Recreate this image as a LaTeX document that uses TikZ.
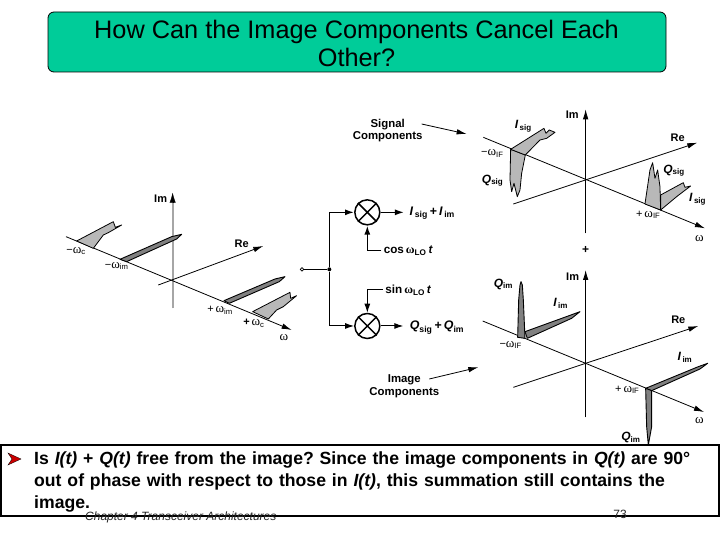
\documentclass[tikz,border=0pt]{standalone}
\usepackage{fontspec}
\setmainfont{Liberation Sans}
\newfontfamily\omfont{Liberation Serif}
\usetikzlibrary{arrows.meta}
\definecolor{titlegreen}{RGB}{0,204,153}
\newcommand{\om}{{\omfont\fontsize{13}{13}\selectfont ω}}
\newcommand{\oms}{{\omfont\fontsize{12}{12}\selectfont ω}}
\tikzset{
 axisline/.style={black,line width=.8pt},
 axisarrow/.style={axisline,-{Latex[length=10pt,width=5.5pt]}},
 wire/.style={black,line width=1.5pt,-{Latex[length=9pt,width=6pt]}},
 thinwire/.style={black,line width=1pt,-{Latex[length=9pt,width=6pt]}},
 spikelight/.style={fill=black!28,draw=black,line width=.8pt,line join=round},
 spikedark/.style={fill=black!50,draw=black,line width=.9pt,line join=round},
 lab/.style={font=\fontsize{11}{12}\selectfont,inner sep=0pt},
 blab/.style={font=\fontsize{11}{12}\selectfont\bfseries,inner sep=0pt},
 clab/.style={font=\fontsize{11.4}{12.5}\selectfont\bfseries,inner sep=0pt,align=center},
 vlab/.style={font=\fontsize{12}{13}\selectfont\bfseries,inner sep=0pt},
 wlab/.style={font=\fontsize{11.7}{13}\selectfont\bfseries,inner sep=0pt,outer sep=2.5pt},
 olab/.style={font=\fontsize{12.4}{13}\selectfont\bfseries,inner sep=0pt},
 mixer/.style={circle,draw=black,line width=1.5pt,minimum size=25pt,inner sep=0pt},
}
\begin{document}
\frenchspacing
\begin{tikzpicture}[x=1pt,y=-1pt]
\useasboundingbox (0,0) rectangle (720,540);
\fill[white] (0,0) rectangle (720,540);
% title
\node[draw=black,fill=titlegreen,rounded corners=6pt,line width=.8pt,minimum width=618pt,minimum height=60pt,inner sep=0pt] (title) at (357,42) {};
\node[align=center,inner sep=0pt,font=\fontsize{25.3}{28}\selectfont] (titletext) at (356.5,43) {How Can the Image Components Cancel Each\\Other?};

% left spectrum
\begin{scope}[shift={(40,170)},x=.3333pt,y=-.3333pt]
\coordinate (la) at (398,415); \coordinate (lb) at (398,68); \coordinate (lb2) at (398,90);
\draw[black!35,line width=1.8pt] (la) -- (lb2);
\draw[black,-{Latex[length=10pt,width=6pt]},line width=.3pt] (lb2) -- (lb);
\coordinate (lc) at (78,200); \coordinate (ld) at (755,480);
\draw[axisarrow] (lc) -- (ld);
\coordinate (le) at (355,345); \coordinate (lf) at (670,228);
\draw[axisarrow] (le) -- (lf);
\draw[spikelight] (110,213) -- (220,155) -- (226,172) -- (245,165) -- (205,188) -- (190,195) -- (160,235) -- cycle;
\draw[spikedark] (240,268) -- (395,200) -- (425,193) -- (410,207) -- (260,275) -- cycle;
\draw[spikedark] (552,392) -- (705,327) -- (735,320) -- (718,335) -- (568,400) -- cycle;
\draw[spikelight] (638,425) -- (750,367) -- (752,385) -- (770,377) -- (730,410) -- (710,420) -- (685,447) -- cycle;
\node[blab] (lim) at (362,85) {Im};
\node[blab] (lre) at (605,220) {Re};
\node[lab] (l1) at (108,243) {−\om\textsubscript{c}};
\node[lab] (l2) at (230,288) {−\om\textsubscript{im}};
\node[lab] (l3) at (540,420) {+\,\om\textsubscript{im}};
\node[lab] (l4) at (642,460) {\textbf{+}\,\om\textsubscript{c}};
\node[lab] (l5) at (732,502) {\om};
\end{scope}

% block diagram
\begin{scope}[shift={(290,180)},x=.3333pt,y=-.3333pt]
\node[mixer] (m1) at (232,97) {};
\node[mixer] (m2) at (232,438) {};
\draw[black,line width=1.5pt] (m1.north west) -- (m1.south east) (m1.north east) -- (m1.south west);
\draw[black,line width=1.5pt] (m2.north west) -- (m2.south east) (m2.north east) -- (m2.south west);
\node[circle,draw=black,line width=.7pt,minimum size=3.5pt,inner sep=0pt] (inp) at (36,268) {};
\node[circle,fill=black,minimum size=4pt,inner sep=0pt] (jn) at (118,268) {};
\draw[black,line width=1.5pt] (inp) -- (jn);
\draw[wire] (jn) |- (m1);
\draw[thinwire] (jn) |- (m2);
\node[olab] (o1) at (427,100) {\textit{I}\textsubscript{\,sig}\,+\,\textit{I}\textsubscript{\,im}};
\node[olab] (o2) at (441,443) {\textit{Q}\textsubscript{sig}\,+\,\textit{Q}\textsubscript{im}};
\coordinate (o1t) at (342,97); \coordinate (o2t) at (340,438);
\draw[wire] (m1) -- (o1t);
\draw[thinwire] (m2) -- (o2t);
\node[wlab] (c1) at (355,212) {cos\,\oms\textsubscript{LO}\,\textit{t}};
\node[wlab] (s1) at (355,330) {sin\,\oms\textsubscript{LO}\,\textit{t}};
\draw[wire] (c1) -| (m1);
\draw[thinwire] (s1) -| (m2);
\node[clab] (imc) at (343,619) {Image\\Components};
\coordinate (ims) at (418,597); \coordinate (imt) at (565,562);
\draw[axisarrow] (ims) -- (imt);
\end{scope}

% signal spectrum
\begin{scope}[shift={(340,100)},x=.3333pt,y=-.3333pt]
\coordinate (sa) at (737,400); \coordinate (sb) at (737,28);
\draw[axisarrow] (sa) -- (sb);
\coordinate (sc) at (430,112); \coordinate (sd) at (1095,385);
\draw[axisarrow] (sc) -- (sd);
\coordinate (se) at (520,312); \coordinate (sf) at (1072,128);
\draw[axisarrow] (se) -- (sf);
\draw[spikelight] (512,148) -- (510,240) -- (515,275) -- (522,250) -- (532,290) -- (540,270) -- (545,220) -- (556,165) -- cycle;
\draw[spikelight] (512,148) -- (612,85) -- (618,100) -- (628,90) -- (645,97) -- (620,115) -- (600,120) -- (556,165) -- cycle;
\draw[spikelight] (915,312) -- (930,210) -- (938,188) -- (945,235) -- (953,210) -- (960,260) -- (962,330) -- cycle;
\draw[spikelight] (962,330) -- (962,285) -- (1030,248) -- (1035,262) -- (1052,258) -- (1010,290) -- cycle;
\node[blab] (sim) at (697,45) {Im};
\node[blab] (sre) at (1013,112) {Re};
\node[clab] (sc1) at (143,92) {Signal\\Components};
\coordinate (scs) at (245,72); \coordinate (sct) at (380,102);
\draw[axisarrow] (scs) -- (sct);
\node[vlab] (s2) at (550,78) {\textit{I}\textsubscript{\,sig}};
\node[vlab] (s3) at (458,242) {\textit{Q}\textsubscript{sig}};
\node[vlab] (s4) at (1002,212) {\textit{Q}\textsubscript{sig}};
\node[vlab] (s5) at (1073,298) {\textit{I}\textsubscript{\,sig}};
\node[lab] (s6) at (457,160) {−\om\textsubscript{IF}};
\node[lab] (s7) at (925,345) {+\,\om\textsubscript{IF}};
\node[lab] (s8) at (1078,416) {\om};
\node[vlab] (plus) at (737,450) {+};
\end{scope}

% image spectrum
\begin{scope}[shift={(470,260)},x=.3333pt,y=-.3333pt]
\coordinate (ia) at (347,472); \coordinate (ib) at (347,30);
\draw[axisarrow] (ia) -- (ib);
\coordinate (ic) at (38,183); \coordinate (id) at (702,456);
\draw[axisarrow] (ic) -- (id);
\coordinate (ie) at (130,382); \coordinate (if) at (685,198);
\draw[axisarrow] (ie) -- (if);
\draw[spikedark] (143,232) -- (146,120) -- (150,75) -- (153,65) -- (157,75) -- (160,120) -- (165,235) -- cycle;
\draw[spikedark] (165,215) -- (300,166) -- (330,155) -- (305,175) -- (172,235) -- cycle;
\draw[spikedark] (527,385) -- (685,320) -- (713,310) -- (690,327) -- (545,392) -- cycle;
\draw[spikedark] (527,385) -- (530,500) -- (535,555) -- (545,500) -- (545,392) -- cycle;
\node[blab] (iim) at (308,50) {Im};
\node[blab] (ire) at (625,180) {Re};
\node[vlab] (i1) at (100,72) {\textit{Q}\textsubscript{im}};
\node[vlab] (i2) at (272,130) {\textit{I}\textsubscript{\,im}};
\node[vlab] (i3) at (645,292) {\textit{I}\textsubscript{\,im}};
\node[vlab] (i4) at (483,532) {\textit{Q}\textsubscript{im}};
\node[lab] (i5) at (122,255) {−\om\textsubscript{IF}};
\node[lab] (i6) at (472,390) {+\,\om\textsubscript{IF}};
\node[lab] (i7) at (688,481) {\om};
\end{scope}

% bottom box
\node[draw=black,fill=white,line width=2pt,minimum width=718pt,minimum height=71pt,inner sep=0pt] (bbox) at (360,480.5) {};
\fill[red!80!black,draw=black,line width=.3pt] (8,453) -- (21,459) -- (8,465) -- (12,459) -- cycle;
\node[anchor=north west,inner sep=0pt,text width=680pt,align=left,font=\fontsize{17.63}{21.8}\selectfont\bfseries] (body) at (34,452)
{Is \textit{I(t)} + \textit{Q(t)} free from the image? Since the image components in \textit{Q(t)} are 90°\\
out of phase with respect to those in \textit{I(t)}, this summation still contains the\\
image.};
% footer
\node[inner sep=0pt,anchor=west,font=\fontsize{12}{14}\selectfont\itshape,text=black!85] (chap) at (85,517.5) {Chapter 4 Transceiver Architectures};
\node[inner sep=0pt,font=\fontsize{12}{14}\selectfont,text=black!85] (pg) at (620,514.5) {73};
\end{tikzpicture}
\end{document}
